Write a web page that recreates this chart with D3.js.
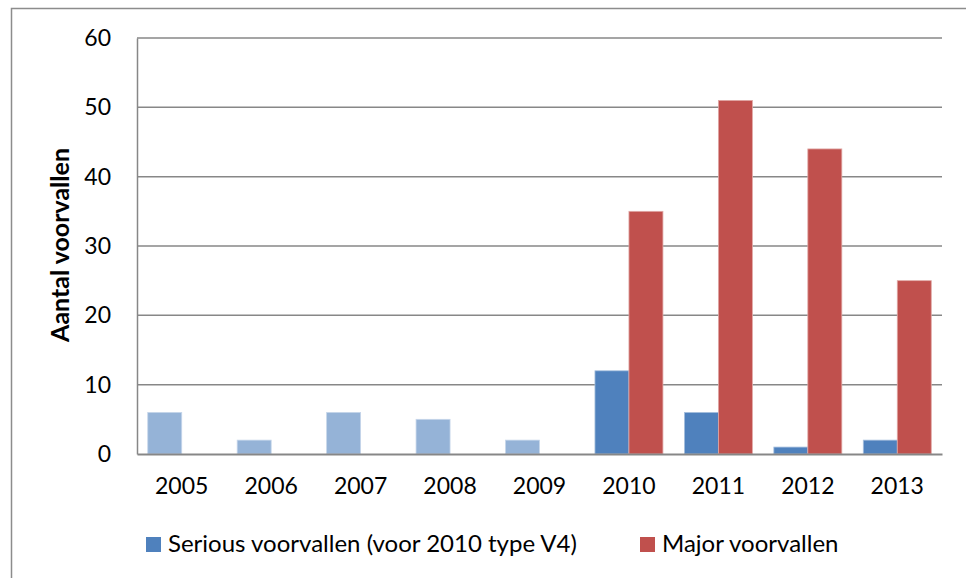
<!DOCTYPE html>
<html>
<head>
<meta charset="utf-8">
<script src="https://cdn.jsdelivr.net/npm/d3@7"></script>
<style>
  body { margin: 0; background: #fff; }
  svg { display: block; font-family: Lato, "Open Sans", sans-serif; }
</style>
</head>
<body>
<div class="js-vis"></div>
<script>
"use strict";

// Data
var years = ["2005", "2006", "2007", "2008", "2009", "2010", "2011", "2012", "2013"];
var serious = [6, 2, 6, 5, 2, 12, 6, 1, 2];
var major = [null, null, null, null, null, 35, 51, 44, 25];
var yTicks = [0, 10, 20, 30, 40, 50, 60];
var seriesNames = ["Serious voorvallen (voor 2010 type V4)", "Major voorvallen"];

var W = 966, H = 578;
var margin = { top: 38, right: 24, bottom: 124, left: 137 },
    width = W - margin.left - margin.right,
    height = H - margin.top - margin.bottom;

var svg = d3.select(".js-vis").append("svg").attr("width", W).attr("height", H);

// outer chart border (runs off the page on the right and bottom)
svg.append("rect").attr("x", 11.5).attr("y", 8.5).attr("width", 1000).attr("height", 1000)
  .attr("fill", "none").attr("stroke", "#8c8c8c").attr("stroke-width", 1.5);

var vis = svg.append("g").attr("transform", "translate(" + margin.left + "," + margin.top + ")");

var x = d3.scaleBand().domain(years).range([0, width]).paddingInner(0.24).paddingOuter(0.12);
var xs = d3.scaleBand().domain([0, 1]).range([0, x.bandwidth()]);
var y = d3.scaleLinear().domain([0, 60]).range([height, 0]);

// grid lines
vis.append("g").selectAll("line").data(yTicks.slice(1)).enter().append("line")
  .attr("x1", 0).attr("x2", width)
  .attr("y1", function (d) { return y(d); }).attr("y2", function (d) { return y(d); })
  .attr("stroke", "#878787").attr("stroke-width", 1.5);

// y axis
var yax = vis.append("g").call(d3.axisLeft(y).tickValues(yTicks).tickSize(0).tickPadding(26));
yax.select(".domain").attr("stroke", "#878787").attr("stroke-width", 1.5);
yax.selectAll("text").attr("font-size", 23).attr("font-family", "Lato, sans-serif").attr("fill", "#000");

// bars
var rows = years.map(function (yr, i) { return { year: yr, s: serious[i], m: major[i], i: i }; });

vis.append("g").selectAll("rect").data(rows).enter().append("rect")
  .attr("x", function (d) { return x(d.year) + xs(0); })
  .attr("width", xs.bandwidth())
  .attr("y", function (d) { return y(d.s); })
  .attr("height", function (d) { return y(0) - y(d.s); })
  .attr("fill", function (d) { return d.i < 5 ? "#95b3d7" : "#4f81bd"; })
  .attr("stroke", function (d) { return d.i < 5 ? "#c6d6ea" : "#a7c0de"; })
  .attr("stroke-width", 0.8);

vis.append("g").selectAll("rect").data(rows.filter(function (d) { return d.m != null; })).enter().append("rect")
  .attr("x", function (d) { return x(d.year) + xs(1); })
  .attr("width", xs.bandwidth())
  .attr("y", function (d) { return y(d.m); })
  .attr("height", function (d) { return y(0) - y(d.m); })
  .attr("fill", "#c0504d")
  .attr("stroke", "#e0a8a6")
  .attr("stroke-width", 0.8);

// x axis
var xax = vis.append("g").attr("transform", "translate(0," + height + ")")
  .call(d3.axisBottom(x).tickSize(0).tickPadding(24));
xax.select(".domain").attr("stroke", "#878787").attr("stroke-width", 2);
xax.selectAll("text").attr("font-size", 23).attr("font-family", "Lato, sans-serif").attr("fill", "#000");

// y axis title
svg.append("text")
  .attr("transform", "translate(69,245) rotate(-90)")
  .attr("text-anchor", "middle")
  .attr("font-size", 25).attr("font-weight", "bold")
  .text("Aantal voorvallen");

// legend
var legend = svg.append("g");
var legX = [146, 640];
var legColors = ["#4f81bd", "#c0504d"];
seriesNames.forEach(function (name, i) {
  legend.append("rect").attr("x", legX[i]).attr("y", 537).attr("width", 15).attr("height", 15)
    .attr("fill", legColors[i]);
  legend.append("text").attr("x", legX[i] + 22).attr("y", 552)
    .attr("font-size", 24).text(name);
});
</script>
</body>
</html>
